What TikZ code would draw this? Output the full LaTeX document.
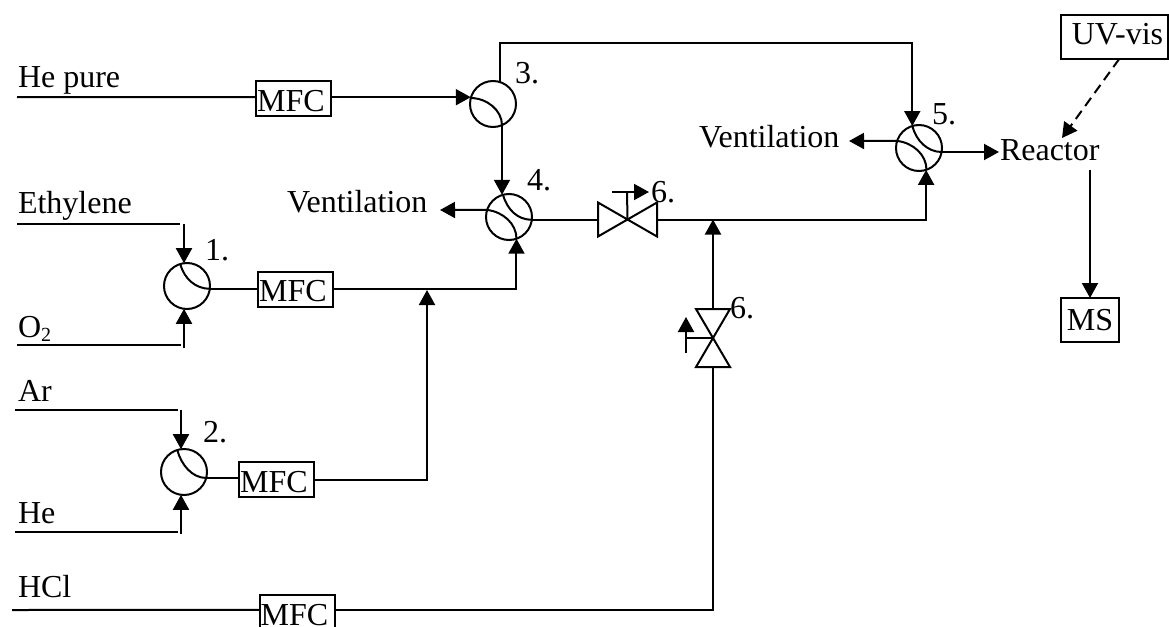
\documentclass[tikz,border=0pt]{standalone}
\usepackage{fontspec}
\setmainfont{Liberation Serif}
\usetikzlibrary{arrows.meta}
\tikzset{
  line/.style={line width=2pt,line cap=butt},
  flow/.style={line,-{Triangle[width=16pt,length=15pt]}},
  junction/.style={circle,draw,line width=2pt,minimum size=46pt,inner sep=0pt,outer sep=0pt},
  mfc/.style={draw,line width=2pt,minimum width=75pt,minimum height=35pt,inner sep=0pt,outer sep=0pt,text height=25pt,text depth=0pt},
  lbl/.style={anchor=base west,inner sep=0pt,outer sep=0pt},
  valvebox/.style={inner sep=0pt,outer sep=0pt}
}
\newcommand{\mfctext}{MFC\kern5pt}
\begin{document}
\begin{tikzpicture}[x=1pt,y=-1pt,font=\fontsize{32}{38}\selectfont]
\useasboundingbox (0,0) rectangle (1169,626);
\clip (0,0) rectangle (1169,626);
% junctions
\node[junction] (c1) at (187,286) {};
\node[junction] (c2) at (184,472) {};
\node[junction] (c3) at (493,104) {};
\node[junction] (c4) at (509,217) {};
\node[junction] (c5) at (919,148) {};
% boxes
\node[mfc] (m1) at (293.5,98.5) {\mfctext};
\node[mfc] (m2) at (295.5,289) {\mfctext};
\node[mfc] (m3) at (276.5,479.5) {\mfctext};
\node[mfc] (m4) at (297,612.5) {\mfctext};
\node[draw,line width=2pt,minimum width=107pt,minimum height=44pt,inner sep=0pt,outer sep=0pt,text height=22pt,text depth=6pt] (uv) at (1114.5,37) {\kern6pt UV-vis};
\node[draw,line width=2pt,minimum width=58pt,minimum height=44pt,inner sep=0pt,outer sep=0pt,text height=22pt,text depth=2pt] (ms) at (1090,320) {MS};
% valves
\node[valvebox,minimum width=59pt,minimum height=34pt] (va) at (627.5,219.5) {};
\node[valvebox,minimum width=34pt,minimum height=58pt] (vb) at (713,338) {};
\draw[line,line join=miter] (va.north west) -- (va.south east) -- (va.north east) -- (va.south west) -- cycle;
\draw[line,line join=miter] (vb.north west) -- (vb.north east) -- (vb.south west) -- (vb.south east) -- cycle;
% labels
\node[lbl] (tHe) at (18,87) {He pure};
\node[lbl] (tEth) at (18,213) {Ethylene};
\node[lbl] (tO) at (18,337) {O\raisebox{-4pt}{\fontsize{20}{24}\selectfont 2}};
\node[lbl] (tAr) at (18,401) {Ar};
\node[lbl] (tHe2) at (18,523) {He};
\node[lbl] (tHCl) at (18,597) {HCl};
\node[lbl] (v1) at (287,212) {Ventilation};
\node[lbl] (v2) at (699,147) {Ventilation};
\node[lbl] (react) at (1000,160) {Reactor};
\node[lbl] (n1) at (205,260) {1.};
\node[lbl] (n2) at (203,442) {2.};
\node[lbl] (n3) at (515,83) {3.};
\node[lbl] (n4) at (527,190) {4.};
\node[lbl] (n5) at (932,124) {5.};
\node[lbl] (n6a) at (651,202) {6.};
\node[lbl] (n6b) at (730,318) {6.};
% free ends
\coordinate (heS) at (17,97);
\coordinate (ethS) at (17,224);
\coordinate (ethE) at (180,224);
\coordinate (ethV) at (184,224);
\coordinate (oS) at (17,345);
\coordinate (oE) at (181,345);
\coordinate (oV) at (184,348);
\coordinate (arS) at (15,410);
\coordinate (arE) at (178,410);
\coordinate (arV) at (181,410);
\coordinate (he2S) at (15,532);
\coordinate (he2E) at (178,532);
\coordinate (he2V) at (181,534);
\coordinate (hclS) at (12,610);
\coordinate (top) at (700,43);
\coordinate (j1) at (427,290);
\coordinate (v1tip) at (440,210);
\coordinate (v2tip) at (849,141);
\coordinate (rin) at (999,152);
\coordinate (rout) at (1090,170);
\coordinate (uvtip) at (1062,138);
\coordinate (vaT) at (627,192);
\coordinate (vaL) at (612,192);
\coordinate (vaR) at (649,192);
\coordinate (vbL) at (686,338);
\coordinate (vbB) at (686,353);
\coordinate (vbT) at (686,317);
% inner arcs
\draw[line] (c1.107) .. controls +(4,15) and +(-14,0) .. (c1.-7);
\draw[line] (c2.107) .. controls +(4,15) and +(-14,0) .. (c2.-15);
\draw[line] (c3.165) .. controls +(16,0) and +(0,-15) .. (c3.-67);
\draw[line] (c4.162) .. controls +(16,2) and +(0,-15) .. (c4.-71);
\draw[line] (c4.105) .. controls +(4,15) and +(-14,0) .. (c4.-7);
\draw[line] (c5.162) .. controls +(16,2) and +(0,-15) .. (c5.-71);
\draw[line] (c5.107) .. controls +(4,15) and +(-14,0) .. (c5.-10);
% connectors
\draw[line] (heS) -- (m1.178);
\draw[flow] (m1.2) -- (m1.2 -| c3.165);
\draw[line] (ethS) -- (ethE);
\draw[flow] (ethV) -- (ethV |- c1.97);
\draw[line] (oS) -- (oE);
\draw[flow] (oV) -- (oV |- c1.263);
\draw[line] (arS) -- (arE);
\draw[flow] (arV) -- (arV |- c2.97);
\draw[line] (he2S) -- (he2E);
\draw[flow] (he2V) -- (he2V |- c2.263);
\draw[line] (c1.-7) -- (c1.-7 -| m2.west);
\draw[line] (c2.-15) -- (c2.-15 -| m3.west);
\draw[flow] (m2.east) -| (c4.-71);
\draw[flow] (m3.east) -| (j1);
\draw[flow] (c3.-67) -- (c3.-67 |- c4.105);
\draw[flow] (c3.72) |- (top) -| (c5.107);
\draw[flow] (c4.162) -- (v1tip);
\draw[flow] (c5.162) -- (v2tip);
\draw[line] (c4.-7) -- (c4.-7 -| va.west);
\draw[flow] (va.east) -| (c5.-72);
\draw[flow] (vb.north) -- (vb.north |- va.east);
\draw[line] (hclS) -- (m4.176);
\draw[line] (m4.4) -| (vb.south);
\draw[flow] (c5.-10) -- (c5.-10 -| rin);
\draw[flow] (rout) -- (ms.north);
\draw[flow,dash pattern=on 10pt off 6pt] (uv.-78) -- (uvtip);
% valve stems
\draw[line] (va.center) -- (vaT);
\draw[flow] (vaL) -- (vaR);
\draw[line] (vb.center) -- (vbL);
\draw[flow] (vbB) -- (vbT);
\end{tikzpicture}
\end{document}
